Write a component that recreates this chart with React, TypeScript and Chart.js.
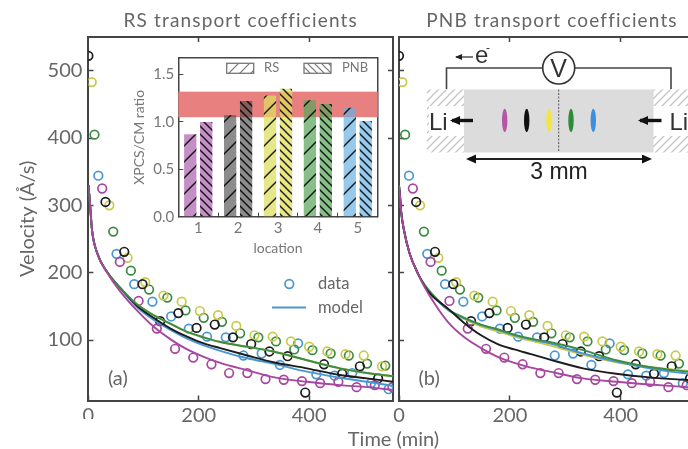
import React, { useEffect, useRef } from "react";
import { Chart, registerables } from "chart.js";

Chart.register(...registerables);

const FONT = "Lato, 'Noto Sans', sans-serif";
const TEXT = "#666666";
const SPINE = "#444444";

const PURPLE = "#a8479f";
const BLACK = "#1c1c1c";
const YELLOW = "#c9c94a";
const GREEN = "#3c8c42";
const BLUE = "#4a97d3";

// data points (time in min, velocity in Å/s)
const purpleT = [25, 57, 91, 124, 157, 190, 223, 255, 288, 321, 354, 387, 420, 453, 486, 519, 551];
const purpleV = [325, 216, 158, 117, 87, 74, 64, 51, 51, 42, 41, 39, 36, 38, 30, 33, 30];
const blackT = [0, 31, 65, 98, 130, 163, 196, 229, 262, 295, 328, 361, 393, 427, 460, 492, 525];
const blackV = [522, 305, 231, 183, 128, 140, 118, 123, 104, 94, 83, 76, 22, 64, 50, 61, 43];
const yellowT = [6, 38, 71, 103, 136, 169, 202, 235, 268, 301, 334, 367, 400, 433, 466, 499, 532];
const yellowV = [483, 300, 222, 186, 166, 157, 143, 137, 121, 107, 105, 98, 90, 83, 79, 77, 61];
const greenT = [11, 45, 77, 110, 143, 176, 209, 242, 275, 308, 340, 373, 406, 439, 472, 505, 538];
const greenV = [405, 261, 203, 175, 163, 144, 133, 127, 110, 104, 98, 86, 85, 80, 77, 65, 62];
const blueT = [18, 51, 83, 116, 150, 182, 215, 249, 281, 314, 347, 380, 413, 446, 478, 512, 544];
const blueV = [344, 228, 183, 157, 135, 117, 105, 104, 77, 80, 63, 95, 49, 47, 51, 36, 27];

// model curves, panel (a)
const aCurveT = [0, 2, 4, 6.6, 16, 34, 58, 88, 118, 149, 179, 209, 239, 288, 335, 396, 456, 505, 552];
const aPurple = [330, 312, 290, 263, 229, 200, 172, 144, 120, 101, 86, 75, 66, 55, 45, 38, 33, 30, 26];
const aBlack = [330, 312, 290, 263, 229, 201, 177, 151, 133, 117, 105, 95, 88, 77, 67, 58, 48, 43, 38];
const aYellow = [330, 312, 290, 263, 229, 201, 177, 153, 137, 124, 112, 104, 97, 90, 83, 70, 58, 51, 46];
const aGreen = [330, 312, 290, 263, 229, 201, 177, 153, 137, 124, 112, 104, 97, 90, 83, 70, 58, 51, 46];
const aBlue = [330, 312, 290, 263, 229, 201, 177, 149, 130, 115, 102, 92, 84, 73, 65, 53, 44, 38, 32];

// model curves, panel (b)
const bCurveT = [0, 2, 4, 9, 19, 34, 46, 58, 88, 118, 148, 178, 208, 238, 272, 332, 392, 452, 521, 552];
const bPurple = [330, 312, 290, 263, 229, 199, 179, 162, 127, 104, 88, 75, 66, 59, 53, 43, 38, 34, 30, 28];
const bBlack = [330, 312, 290, 263, 229, 199, 180, 167, 147, 125, 107, 94, 86, 79, 71, 58, 50, 44.5, 40.6, 39];
const bYellow = [330, 312, 290, 263, 229, 199, 182, 169, 145, 131, 120, 113, 105, 99, 92, 78, 67, 60, 54, 51];
const bGreen = [330, 312, 290, 263, 229, 199, 182, 170, 146, 133, 123, 116, 108, 102, 97, 85, 70, 60, 53, 50];
const bBlue = [330, 312, 290, 263, 229, 199, 182, 169, 145, 132, 122, 115, 107, 101, 95, 80, 68, 58, 50, 47];

const xTicks = [0, 200, 400];
const yTicks = [100, 200, 300, 400, 500];

// inset
const locations = ["1", "2", "3", "4", "5"];
const rsRatio = [0.87, 1.07, 1.28, 1.23, 1.15];
const pnbRatio = [1.0, 1.22, 1.35, 1.19, 1.01];
const bandLow = 1.05;
const bandHigh = 1.32;
const insetTicks = [0, 0.5, 1, 1.5];
const barFills = [
  "rgba(168,90,168,0.68)",
  "rgba(70,70,70,0.62)",
  "rgba(222,222,90,0.72)",
  "rgba(90,165,90,0.72)",
  "rgba(100,175,225,0.68)",
];

const xy = (t: number[], v: number[]) => t.map((x, i) => ({ x, y: v[i] }));

const markers = () =>
  [
    [purpleT, purpleV, PURPLE],
    [blackT, blackV, BLACK],
    [yellowT, yellowV, YELLOW],
    [greenT, greenV, GREEN],
    [blueT, blueV, BLUE],
  ].map(([t, v, c]: any) => ({
    data: xy(t, v),
    showLine: false,
    borderColor: c,
    backgroundColor: "transparent",
    pointRadius: 4.3,
    pointBorderWidth: 1.7,
    clip: 0,
  }));

const curves = (t: number[], sets: [number[], string][]) =>
  sets.map(([v, c]) => ({
    data: xy(t, v),
    showLine: true,
    borderColor: c,
    borderWidth: 1.9,
    pointRadius: 0,
    cubicInterpolationMode: "monotone",
    clip: 0,
  }));

function hatchPattern(fill: string, size: number, dir: 1 | -1, stroke = "rgba(0,0,0,0.85)", lw = 1.5) {
  const c = document.createElement("canvas");
  c.width = size;
  c.height = size;
  const g = c.getContext("2d")!;
  g.fillStyle = fill;
  g.fillRect(0, 0, size, size);
  g.strokeStyle = stroke;
  g.lineWidth = lw;
  if (dir < 0) {
    g.translate(size, 0);
    g.scale(-1, 1);
  }
  g.beginPath();
  g.moveTo(-1, size + 1);
  g.lineTo(size + 1, -1);
  g.moveTo(-2, 2);
  g.lineTo(2, -2);
  g.moveTo(size - 2, size + 2);
  g.lineTo(size + 2, size - 2);
  g.stroke();
  return g.createPattern(c, "repeat")!;
}

const fixW = (w: number) => (s: any) => {
  s.width = w;
};
const fixH = (h: number) => (s: any) => {
  s.height = h;
};
const setTicks = (vals: number[]) => (s: any) => {
  s.ticks = vals.map((value) => ({ value }));
};

function panel(
  canvas: HTMLCanvasElement,
  title: string,
  tag: string,
  curveSets: any[],
  padLeft: number,
  padRight: number,
  yAxisW: number,
  withLabels: boolean,
  withLegend: boolean,
) {
  const border = { display: true, color: SPINE, width: 2 };
  const tickGrid = { drawOnChartArea: false, color: SPINE, tickLength: -5, tickWidth: 1.5 };
  const decor = {
    id: "decor",
    beforeDraw(ch: any) {
      const t = ch.titleBlock;
      if (t && !t.__spaced) {
        t.__spaced = true;
        const orig = t.draw.bind(t);
        t.draw = () => {
          ch.ctx.letterSpacing = "1.15px";
          orig();
          ch.ctx.letterSpacing = "0px";
        };
      }
    },
    afterDraw(ch: any) {
      const { ctx, chartArea: a } = ch;
      ctx.save();
      ctx.fillStyle = TEXT;
      ctx.font = `20px ${FONT}`;
      ctx.textBaseline = "middle";
      ctx.textAlign = "left";
      ctx.fillText(tag, a.left + 19.5, 379);
      if (withLegend) {
        ctx.strokeStyle = BLUE;
        ctx.lineWidth = 1.7;
        ctx.beginPath();
        ctx.arc(289.3, 284, 4.3, 0, Math.PI * 2);
        ctx.stroke();
        ctx.lineWidth = 1.9;
        ctx.beginPath();
        ctx.moveTo(272, 307.5);
        ctx.lineTo(306, 307.5);
        ctx.stroke();
        ctx.font = `16.5px ${FONT}`;
        ctx.fillText("data", 318, 284);
        ctx.fillText("model", 318, 308);
      }
      ctx.restore();
    },
  };
  return new Chart(canvas, {
    type: "scatter",
    data: { datasets: [...curveSets, ...markers()] as any },
    plugins: [decor],
    options: {
      responsive: false,
      animation: false,
      layout: { padding: { left: padLeft, right: padRight, top: 0, bottom: 0 } },
      plugins: {
        legend: { display: false },
        tooltip: { enabled: false },
        title: {
          display: true,
          text: title,
          fullSize: false,
          color: TEXT,
          font: { family: FONT, size: 19, weight: "normal", lineHeight: 1.2 },
          padding: { top: 9, bottom: 5.2 },
        },
      },
      scales: {
        x: {
          type: "linear",
          position: "bottom",
          min: 0,
          max: 552,
          afterFit: fixH(48.5),
          afterBuildTicks: setTicks(xTicks),
          border,
          grid: tickGrid,
          ticks: { color: TEXT, font: { family: FONT, size: 20 }, padding: 8, maxRotation: 0 },
        },
        y: {
          type: "linear",
          position: "left",
          min: 10.2,
          max: 550,
          afterFit: fixW(yAxisW),
          afterBuildTicks: setTicks(yTicks),
          border,
          grid: tickGrid,
          ticks: { display: withLabels, color: TEXT, font: { family: FONT, size: 20 }, padding: 11 },
          title: {
            display: withLabels,
            text: "Velocity (Å/s)",
            color: TEXT,
            font: { family: FONT, size: 20 },
            padding: { top: 16, bottom: 0 },
          },
        },
        x2: {
          type: "linear",
          position: "top",
          min: 0,
          max: 552,
          afterFit: fixH(0),
          afterBuildTicks: setTicks(xTicks.slice(1)),
          border,
          grid: tickGrid,
          ticks: { display: false },
        },
        y2: {
          type: "linear",
          position: "right",
          min: 10.2,
          max: 550,
          afterFit: fixW(0),
          afterBuildTicks: setTicks(yTicks),
          border,
          grid: tickGrid,
          ticks: { display: false },
        },
      },
    } as any,
  });
}

function inset(canvas: HTMLCanvasElement) {
  const border = { display: true, color: SPINE, width: 1.5 };
  const band = {
    id: "band",
    beforeDatasetsDraw(ch: any) {
      const { ctx, chartArea: a, scales } = ch;
      const top = scales.y.getPixelForValue(bandHigh);
      const bot = scales.y.getPixelForValue(bandLow);
      ctx.save();
      ctx.fillStyle = "rgb(232,128,128)";
      ctx.fillRect(a.left, top, a.right - a.left, bot - top);
      ctx.restore();
    },
    afterDraw(ch: any) {
      const { ctx } = ch;
      ctx.save();
      const sw = [
        [96.7, 1, 11, "RS", 134],
        [174, -1, 7, "PNB", 212],
      ] as const;
      for (const [x, dir, size, label, tx] of sw) {
        ctx.fillStyle = hatchPattern("#ffffff", size, dir as 1 | -1, "#777777", 1.2);
        ctx.fillRect(x, 23.3, 27, 10);
        ctx.strokeStyle = "#777777";
        ctx.lineWidth = 1.3;
        ctx.strokeRect(x, 23.3, 27, 10);
        ctx.fillStyle = "#777777";
        ctx.font = `13px ${FONT}`;
        ctx.textBaseline = "middle";
        ctx.textAlign = "left";
        ctx.fillText(label, tx, 28.3);
      }
      ctx.restore();
    },
  };
  const small = "#777777";
  return new Chart(canvas, {
    type: "bar",
    plugins: [band],
    data: {
      labels: locations,
      datasets: [
        {
          label: "RS",
          data: rsRatio,
          backgroundColor: barFills.map((f) => hatchPattern(f, 16, 1)),
          categoryPercentage: 0.8,
          barPercentage: 0.77,
        },
        {
          label: "PNB",
          data: pnbRatio,
          backgroundColor: barFills.map((f) => hatchPattern(f, 8, -1)),
          categoryPercentage: 0.8,
          barPercentage: 0.77,
        },
      ],
    },
    options: {
      responsive: false,
      animation: false,
      layout: { padding: { left: 0, right: 12.3, top: 11, bottom: 0 } },
      plugins: { legend: { display: false }, tooltip: { enabled: false } },
      scales: {
        x: {
          position: "bottom",
          afterFit: fixH(48.3),
          border,
          grid: { drawOnChartArea: false, color: SPINE, tickLength: -4, tickWidth: 1 },
          ticks: { color: small, font: { family: FONT, size: 15 }, padding: 6 },
          title: { display: true, text: "location", color: small, font: { family: FONT, size: 14 }, padding: 8 },
        },
        y: {
          position: "left",
          min: 0,
          max: 1.675,
          afterFit: fixW(48.3),
          afterBuildTicks: setTicks(insetTicks),
          border,
          grid: { drawOnChartArea: false, color: SPINE, tickLength: -5, tickWidth: 1 },
          ticks: {
            color: small,
            font: { family: FONT, size: 15 },
            padding: 9,
            callback: (v: any) => Number(v).toFixed(1),
          },
          title: { display: true, text: "XPCS/CM ratio", color: small, font: { family: FONT, size: 14 }, padding: { top: 1, bottom: 0 } },
        },
        x2: {
          type: "linear",
          position: "top",
          min: 0,
          max: 1,
          afterFit: fixH(0),
          border,
          grid: { display: false },
          ticks: { display: false },
        },
        y2: {
          type: "linear",
          position: "right",
          min: 0,
          max: 1,
          afterFit: fixW(0),
          border,
          grid: { display: false },
          ticks: { display: false },
        },
      },
    } as any,
  });
}

const full: React.CSSProperties = { position: "absolute", left: 0, top: 0 };

function Schematic() {
  const ellipses: [number, string][] = [
    [504.7, "#b555a6"],
    [526.7, "#111111"],
    [549, "#f3e53f"],
    [571, "#2f8a3f"],
    [593.3, "#3b8fdc"],
  ];
  const sans = "'Liberation Sans', sans-serif";
  const narrow = "'Liberation Sans Narrow', 'Liberation Sans', sans-serif";
  return (
    <svg width={688} height={449} style={{ ...full, pointerEvents: "none" }}>
      <defs>
        <pattern id="metal" width="8" height="8" patternUnits="userSpaceOnUse">
          <path d="M-1 9 L9 -1 M-3 3 L3 -3 M5 11 L11 5" stroke="#c4c4c4" strokeWidth="1.3" />
        </pattern>
        <marker id="head" markerWidth="8" markerHeight="8" refX="6" refY="3" orient="auto-start-reverse" markerUnits="userSpaceOnUse">
          <path d="M0 0 L7 3 L0 6 Z" fill="#222" />
        </marker>
        <marker id="bigHead" markerWidth="12" markerHeight="12" refX="8" refY="4.5" orient="auto-start-reverse" markerUnits="userSpaceOnUse">
          <path d="M0 0 L10 4.5 L0 9 Z" fill="#111" />
        </marker>
      </defs>
      <rect x={78} y={419} width={22} height={10} fill="#fff" />
      <rect x={427} y={89.5} width={37} height={63} fill="url(#metal)" />
      <rect x={653} y={89.5} width={35} height={63} fill="url(#metal)" />
      <rect x={429} y={106} width={42} height={30} fill="#fff" />
      <rect x={648} y={106} width={40} height={30} fill="#fff" />
      <rect x={464} y={89.5} width={189.5} height={63} fill="#dcdcdc" />
      <path d="M446.5 89 V68 H542.5 M574.8 68 H671 V89" fill="none" stroke="#444" strokeWidth="1.6" />
      <circle cx={558.7} cy={68} r={16} fill="#fff" stroke="#333" strokeWidth="1.6" />
      <text x={558.7} y={77} fontFamily={narrow} fontSize={25} textAnchor="middle" fill="#333">V</text>
      <line x1={558.7} x2={558.7} y1={89.5} y2={152.5} stroke="#555" strokeWidth="1" strokeDasharray="2 1.5" />
      {ellipses.map(([cx, c]) => (
        <ellipse key={cx} cx={cx} cy={120.5} rx={2.7} ry={11.7} fill={c} />
      ))}
      <line x1={473} y1={120.5} x2={452} y2={120.5} stroke="#111" strokeWidth={3.4} markerEnd="url(#bigHead)" />
      <line x1={661.5} y1={120.5} x2={640} y2={120.5} stroke="#111" strokeWidth={3.4} markerEnd="url(#bigHead)" />
      <text x={429} y={129.5} fontFamily={narrow} fontSize={24} fill="#333">Li</text>
      <text x={669.5} y={129.5} fontFamily={narrow} fontSize={24} fill="#333">Li</text>
      <line x1={468} y1={159} x2={650} y2={159} stroke="#222" strokeWidth={1.8} markerStart="url(#bigHead)" markerEnd="url(#bigHead)" />
      <text x={559} y={178.5} fontFamily={narrow} fontSize={23} textAnchor="middle" fill="#222">3 mm</text>
      <line x1={473} y1={57} x2={456} y2={57} stroke="#333" strokeWidth={1.3} markerEnd="url(#head)" />
      <text x={475} y={63} fontFamily={narrow} fontSize={24} fill="#333">e</text>
      <text x={486} y={52} fontFamily={sans} fontSize={12} fill="#333">-</text>
      <text x={393.5} y={446} fontFamily={FONT} fontSize={20} textAnchor="middle" fill={TEXT}>Time (min)</text>
    </svg>
  );
}

export default function App() {
  const a = useRef<HTMLCanvasElement>(null);
  const b = useRef<HTMLCanvasElement>(null);
  const c = useRef<HTMLCanvasElement>(null);
  useEffect(() => {
    document.body.style.margin = "0";
    const charts = [
      panel(
        a.current!,
        "RS transport coefficients",
        "(a)",
        curves(aCurveT, [
          [aPurple, PURPLE],
          [aGreen, GREEN],
          [aBlack, BLACK],
          [aBlue, BLUE],
          [aYellow, YELLOW],
        ]),
        0,
        327,
        88.4,
        true,
        true,
      ),
      panel(
        b.current!,
        "PNB transport coefficients",
        "(b)",
        curves(bCurveT, [
          [bPurple, PURPLE],
          [bBlack, BLACK],
          [bGreen, GREEN],
          [bBlue, BLUE],
          [bYellow, YELLOW],
        ]),
        399,
        15,
        0,
        false,
        false,
      ),
      inset(c.current!),
    ];
    return () => charts.forEach((ch) => ch.destroy());
  }, []);
  return (
    <div style={{ position: "relative", width: 688, height: 449, overflow: "hidden", background: "#fff" }}>
      <canvas ref={a} width={720} height={449} style={full} />
      <canvas ref={b} width={720} height={449} style={full} />
      <canvas ref={c} width={260} height={225} style={{ ...full, left: 130, top: 40 }} />
      <Schematic />
    </div>
  );
}
